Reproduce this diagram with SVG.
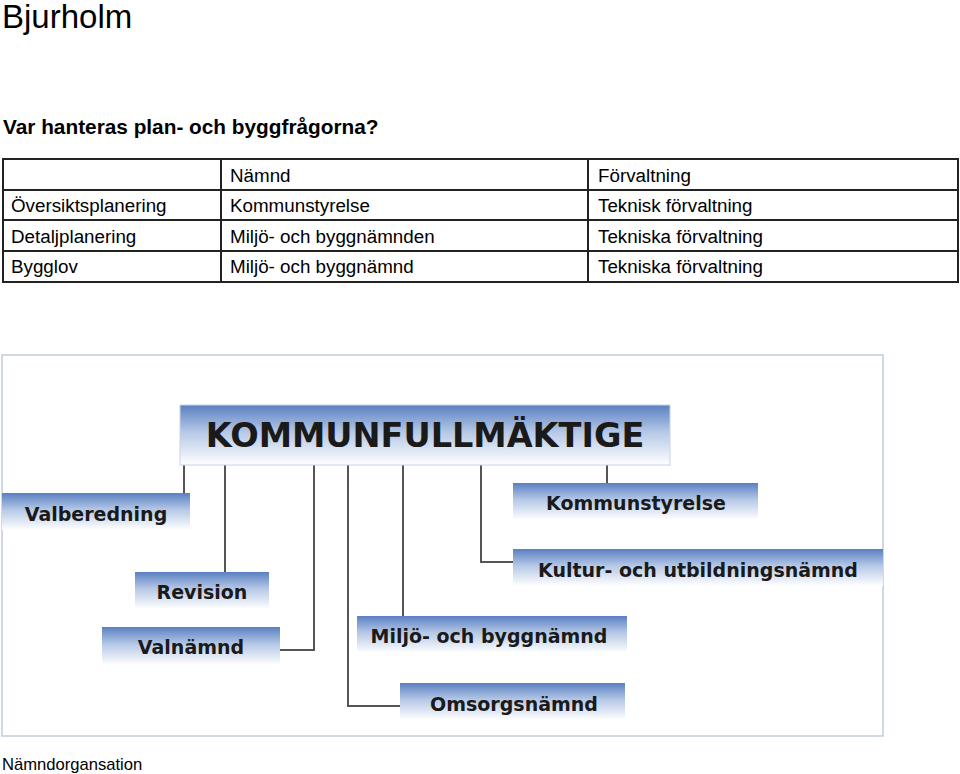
<svg xmlns="http://www.w3.org/2000/svg" width="960" height="774" viewBox="0 0 960 774">
<style>
.t{font-family:"Liberation Sans",Arial,sans-serif;fill:#000}
.c{font-size:18.8px}
.g{stroke:#222;stroke-width:2;fill:none}
.b{fill:url(#bg)}
.n{font-family:"DejaVu Sans","Liberation Sans",sans-serif;font-weight:bold;font-size:19px;fill:#1a1a1a;text-anchor:middle}
.l{stroke:#555;stroke-width:2;fill:none}
</style>
<defs>
<linearGradient id="bg" x1="0" y1="0" x2="0" y2="1">
<stop offset="0" stop-color="#5a80c2"/>
<stop offset="0.45" stop-color="#b5c8e6"/>
<stop offset="1" stop-color="#ffffff"/>
</linearGradient>
</defs>
<rect width="960" height="774" fill="#fff"/>
<text class="t" x="2" y="28" font-size="33">Bjurholm</text>
<text class="t" x="3" y="134" font-size="20.8" font-weight="bold">Var hanteras plan- och byggfrågorna?</text>
<g id="table">
<rect class="g" x="3" y="159" width="955" height="123"/>
<line class="g" x1="3" y1="190" x2="958" y2="190"/>
<line class="g" x1="3" y1="220" x2="958" y2="220"/>
<line class="g" x1="3" y1="251" x2="958" y2="251"/>
<line class="g" x1="221" y1="159" x2="221" y2="282"/>
<line class="g" x1="588" y1="159" x2="588" y2="282"/>
<text class="t c" x="230" y="182">Nämnd</text>
<text class="t c" x="598" y="182">Förvaltning</text>
<text class="t c" x="11" y="212">Översiktsplanering</text>
<text class="t c" x="230" y="212">Kommunstyrelse</text>
<text class="t c" x="598" y="212">Teknisk förvaltning</text>
<text class="t c" x="11" y="243">Detaljplanering</text>
<text class="t c" x="230" y="243">Miljö- och byggnämnden</text>
<text class="t c" x="598" y="243">Tekniska förvaltning</text>
<text class="t c" x="11" y="273">Bygglov</text>
<text class="t c" x="230" y="273">Miljö- och byggnämnd</text>
<text class="t c" x="598" y="273">Tekniska förvaltning</text>
</g>
<rect x="2" y="355" width="881" height="381" fill="none" stroke="#c4ccd8" stroke-width="1.5"/>
<g id="connectors">
<path class="l" d="M184 465V493"/>
<path class="l" d="M225 465V572"/>
<path class="l" d="M314 465V650H280"/>
<path class="l" d="M348 465V706H402"/>
<path class="l" d="M403 465V616"/>
<path class="l" d="M481 465V562H513"/>
<path class="l" d="M607 465V483"/>
</g>
<g id="kf"><rect class="b" x="180" y="405" width="490" height="60" stroke="#c8d4e8" stroke-width="1"/>
<text class="n" x="425" y="447" style="font-size:33.5px">KOMMUNFULLMÄKTIGE</text></g>
<g id="valberedning"><rect class="b" x="2" y="493" width="188" height="37"/><text class="n" x="96" y="521">Valberedning</text></g>
<g id="revision"><rect class="b" x="135" y="572" width="134" height="37"/><text class="n" x="202" y="599">Revision</text></g>
<g id="valnamnd"><rect class="b" x="102" y="627" width="178" height="38"/><text class="n" x="191" y="654">Valnämnd</text></g>
<g id="kommunstyrelse"><rect class="b" x="513" y="483" width="245" height="37"/><text class="n" x="636" y="510">Kommunstyrelse</text></g>
<g id="kultur"><rect class="b" x="513" y="549" width="370" height="37"/><text class="n" x="698" y="577">Kultur- och utbildningsnämnd</text></g>
<g id="miljo"><rect class="b" x="357" y="616" width="270" height="37"/><text class="n" x="489" y="643">Miljö- och byggnämnd</text></g>
<g id="omsorg"><rect class="b" x="400" y="683" width="225" height="37"/><text class="n" x="514" y="711">Omsorgsnämnd</text></g>
<text class="t" x="2" y="770" font-size="16.6">Nämndorgansation</text>
</svg>
